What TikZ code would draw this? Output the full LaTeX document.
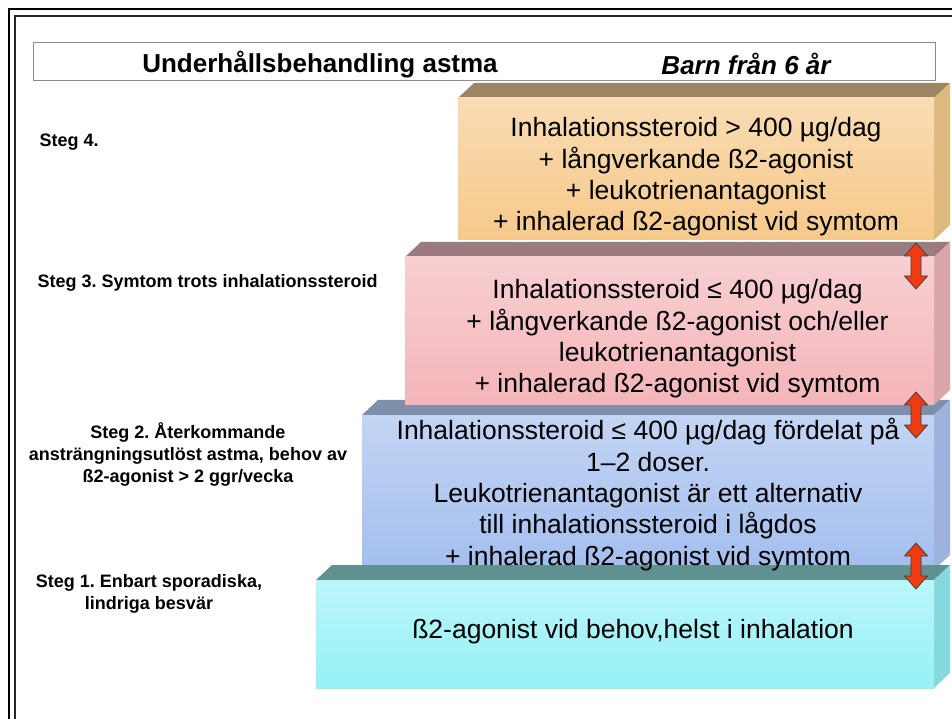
\documentclass[tikz,border=0pt]{standalone}
\usepackage{fontspec}
\setmainfont{Liberation Sans}
\usepackage{tikz}
\frenchspacing

\definecolor{orangeF}{HTML}{F6C98A}
\definecolor{orangeT}{HTML}{9C8563}
\definecolor{orangeS}{HTML}{DDB980}
\definecolor{pinkF}{HTML}{F4B5B9}
\definecolor{pinkT}{HTML}{9B7B7D}
\definecolor{pinkS}{HTML}{D9A6A9}
\definecolor{blueF}{HTML}{A3BEEE}
\definecolor{blueT}{HTML}{7D8FAB}
\definecolor{blueS}{HTML}{9DB2DD}
\definecolor{cyanF}{HTML}{96F1F6}
\definecolor{cyanT}{HTML}{5E918F}
\definecolor{cyanS}{HTML}{84D9DC}
\definecolor{arrowred}{HTML}{F03A12}

% name, left, top, right, bottom, front, top face, side face
\newcommand{\stepblock}[8]{
    \fill[#7] (#2,#3) -- ++(16,15) -- (#4+16,#3+15) -- (#4,#3) -- cycle;
    \fill[#8] (#4,#3) -- ++(16,15) -- (#4+16,#5+15) -- (#4,#5) -- cycle;
    \shade[top color=#6!65, middle color=white, bottom color=#6] (#2,#3) rectangle (#4,#5);
    \coordinate (#1) at ({(#2+#4)/2},{(#3+#5)/2});
}

\tikzset{
    boxtext/.style={align=center, font=\fontsize{26.5}{31.3}\selectfont},
    steglabel/.style={align=center, font=\fontsize{18}{22}\bfseries\selectfont},
    updown/.style={draw=black!75, fill=arrowred, line width=0.8pt, line join=round}
}

\begin{document}
\begin{tikzpicture}[x=1pt, y=1pt]

    \useasboundingbox (0,0) rectangle (952,718);
    \clip (0,0) rectangle (952,718);

    \draw[line width=2pt] (8.5,708.5) rectangle (990,-30);
    \draw[line width=1.8pt, black!85] (15,702) rectangle (984,-24);

    \draw[black!45, fill=white] (33,676) rectangle (935,638);
    \node[font=\fontsize{26}{30}\bfseries\selectfont] (title) at (320,653) {Underhållsbehandling astma};
    \node[font=\fontsize{26}{30}\bfseries\itshape\selectfont] (age) at (746,654) {Barn från 6 år};

    \stepblock{b2}{362}{303}{934}{148}{blueF}{blueT}{blueS}
    \stepblock{b1}{316}{138}{934}{30}{cyanF}{cyanT}{cyanS}
    \stepblock{b4}{458}{620}{934}{478}{orangeF}{orangeT}{orangeS}
    \stepblock{b3}{405}{461}{934}{313}{pinkF}{pinkT}{pinkS}

    \node[boxtext] (t4) at ([yshift=-8pt]b4) {Inhalationssteroid > 400 µg/dag\\+ långverkande ß2-agonist\\+ leukotrienantagonist\\+ inhalerad ß2-agonist vid symtom};
    \node[boxtext] (t3) at ([xshift=8pt,yshift=-8pt]b3) {Inhalationssteroid ≤ 400 µg/dag\\+ långverkande ß2-agonist och/eller\\leukotrienantagonist\\+ inhalerad ß2-agonist vid symtom};
    \node[boxtext] (t2) at ([yshift=-2pt]b2) {Inhalationssteroid ≤ 400 µg/dag fördelat på\\1–2 doser.\\Leukotrienantagonist är ett alternativ\\till inhalationssteroid i lågdos\\+ inhalerad ß2-agonist vid symtom};
    \node[boxtext] (t1) at ([xshift=8pt,yshift=2pt]b1) {ß2-agonist vid behov,helst i inhalation};

    \node[steglabel, anchor=west] (s4) at (36,576) {Steg 4.};
    \node[steglabel, anchor=west] (s3) at (34,435) {Steg 3. Symtom trots inhalationssteroid};
    \node[steglabel] (s2) at (188,264) {Steg 2. Återkommande\\ansträngningsutlöst astma, behov av\\ß2-agonist > 2 ggr/vecka};
    \node[steglabel] (s1) at (149,124) {Steg 1. Enbart sporadiska,\\lindriga besvär};

    \coordinate (a43) at (916,452);
    \coordinate (a32) at (916,303);
    \coordinate (a21) at (916,152);
    \foreach \a in {a43,a32,a21}
        \draw[updown] (\a) ++(0,23) -- ++(-11.5,-13) -- ++(6.5,0) -- ++(0,-20) -- ++(-6.5,0)
            -- ++(11.5,-13) -- ++(11.5,13) -- ++(-6.5,0) -- ++(0,20) -- ++(6.5,0) -- cycle;

\end{tikzpicture}
\end{document}
